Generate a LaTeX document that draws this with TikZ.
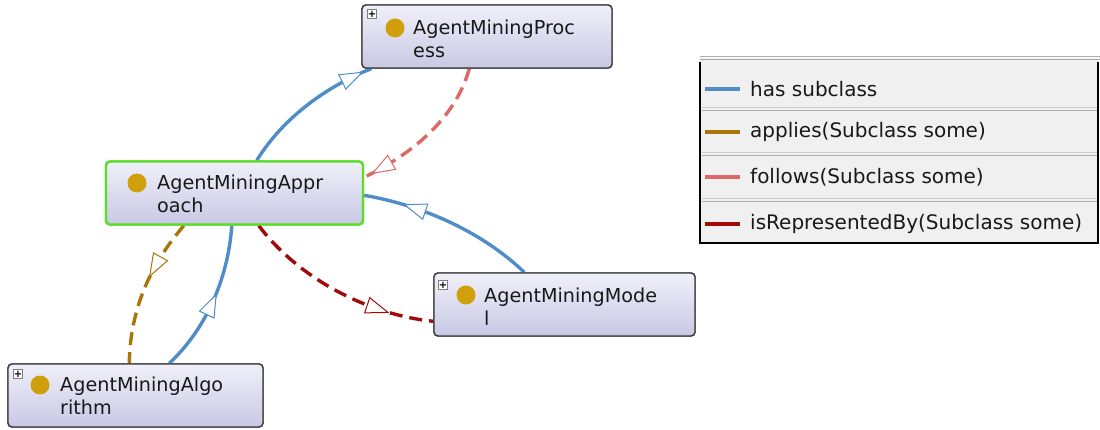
\documentclass[tikz,border=0pt]{standalone}
\usepackage{fontspec}
\setmainfont{DejaVu Sans}
\usetikzlibrary{arrows.meta,decorations.markings,calc}
\definecolor{boxtop}{RGB}{240,240,250}
\definecolor{boxbot}{RGB}{200,200,228}
\definecolor{boxborder}{RGB}{60,60,60}
\definecolor{selgreen}{RGB}{90,220,40}
\definecolor{gold}{RGB}{208,160,12}
\definecolor{subblue}{RGB}{80,140,200}
\definecolor{appbrown}{RGB}{170,118,10}
\definecolor{folpink}{RGB}{222,104,104}
\definecolor{repred}{RGB}{160,10,10}
\definecolor{legfill}{RGB}{240,240,240}
\definecolor{legsep}{RGB}{170,170,170}
\begin{document}
\begin{tikzpicture}[x=1pt,y=-1pt,
  cls/.style={draw=boxborder, line width=1.4pt, rounded corners=4pt,
    top color=boxtop, bottom color=boxbot, inner sep=0pt, minimum height=63pt},
  sel/.style={draw=selgreen, line width=2.4pt},
  plusbox/.style={draw=gray, fill=white, line width=0.6pt, minimum size=9pt,
    inner sep=0pt, font=\fontsize{10}{10}\selectfont\bfseries},
  dot/.style={circle, fill=gold, minimum size=19pt, inner sep=0pt},
  lbl/.style={anchor=west, align=left, inner sep=0pt,
    font=\fontsize{19.2}{23}\selectfont, text=black!90},
  conn/.style={line width=3.4pt},
  dashconn/.style={dash pattern=on 13pt off 7pt},
  tri/.style 2 args={postaction={decorate}, decoration={markings,
    mark=at position #1 with {\draw[solid, line width=1pt, fill=white, draw=#2]
      (-11pt,-8pt) -- (11pt,0pt) -- (-11pt,8pt) -- cycle;}}},
  legtxt/.style={anchor=west, inner sep=0pt, font=\fontsize{20}{22}\selectfont, text=black!90},
  legline/.style={line width=4pt}
]
\useasboundingbox (0,0) rectangle (1100,430);

% ---- boxes ----
\node[cls, minimum width=250pt] (proc) at (487,36.5) {};
\node[cls, sel, minimum width=257pt] (appr) at (234.5,193) {};
\node[cls, minimum width=255pt] (algo) at (135.5,395.5) {};
\node[cls, minimum width=261pt] (model) at (564.5,304.5) {};

% edges
\draw[conn, subblue, tri={0.86}{subblue}]
  ([xshift=152pt]appr.north west) .. controls (285,115) and (330,85) .. ([xshift=10pt]proc.south west);
\draw[conn, dashconn, folpink, tri={0.87}{folpink}]
  ([xshift=108pt]proc.south west) .. controls (455,120) and (410,155) .. ([yshift=-17pt]appr.north east);
\draw[conn, subblue, tri={0.71}{subblue}]
  ([xshift=91pt]model.north west) .. controls (480,230) and (420,205) .. ([yshift=-35pt]appr.north east);
\draw[conn, subblue, tri={0.47}{subblue}]
  ([xshift=162pt]algo.north west) .. controls (205,330) and (228,280) .. ([xshift=127pt]appr.south west);
\draw[conn, dashconn, appbrown, tri={0.33}{appbrown}]
  ([xshift=79pt]appr.south west) .. controls (150,265) and (130,310) .. ([xshift=122pt]algo.north west);
\draw[conn, dashconn, repred, tri={0.72}{repred}]
  ([xshift=154pt]appr.south west) .. controls (300,280) and (370,315) .. ([yshift=-49pt]model.north west);

% redraw boxes on top of edge ends
\node[cls, minimum width=250pt] at (proc) {};
\node[cls, sel, minimum width=257pt] at (appr) {};
\node[cls, minimum width=255pt] at (algo) {};
\node[cls, minimum width=261pt] at (model) {};

% ---- box contents ----
\node[plusbox] (pproc) at (372,14) {+};
\node[dot] (dproc) at (395,28) {};
\node[lbl] (tproc) at (413,38.5) {AgentMiningProc\\ess};

\node[dot] (dappr) at (137,183) {};
\node[lbl] (tappr) at (157,194) {AgentMiningAppr\\oach};

\node[plusbox] (palgo) at (18,374) {+};
\node[dot] (dalgo) at (40,385) {};
\node[lbl] (talgo) at (60,395.5) {AgentMiningAlgo\\rithm};

\node[plusbox] (pmodel) at (443,285) {+};
\node[dot] (dmodel) at (466,295) {};
\node[lbl] (tmodel) at (484,306.5) {AgentMiningMode\\l};

% ---- legend ----
\fill[legfill] (700,58) rectangle (1098,243);
\draw[legsep, line width=1pt] (700,57) -- (1100,57);
\draw[legsep, line width=1pt] (700,60) -- (1100,60);
\foreach \y in {108,153,199} {
  \draw[legsep!60, line width=1pt] (702,\y) -- (1098,\y);
  \draw[legsep, line width=1pt] (702,\y+3) -- (1098,\y+3);
}
\draw[black, line width=1.6pt] (700,62) -- (700,243) -- (1098,243) -- (1098,62);

\coordinate (l1a) at (705,89); \coordinate (l1b) at (740,89);
\draw[legline, subblue] (l1a) -- (l1b);
\node[legtxt] (lg1) at (750,89) {has subclass};
\coordinate (l2a) at (705,132); \coordinate (l2b) at (740,132);
\draw[legline, appbrown] (l2a) -- (l2b);
\node[legtxt] (lg2) at (750,132) {applies(Subclass some)};
\coordinate (l3a) at (705,177); \coordinate (l3b) at (740,177);
\draw[legline, folpink] (l3a) -- (l3b);
\node[legtxt] (lg3) at (750,177) {follows(Subclass some)};
\coordinate (l4a) at (705,224); \coordinate (l4b) at (740,224);
\draw[legline, repred] (l4a) -- (l4b);
\node[legtxt] (lg4) at (750,224) {isRepresentedBy(Subclass some)};
\end{tikzpicture}
\end{document}
